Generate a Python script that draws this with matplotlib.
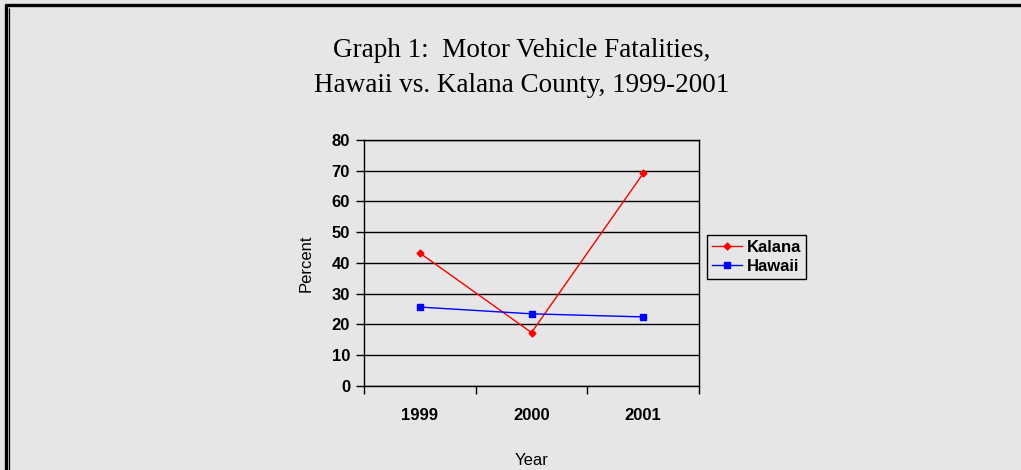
import matplotlib
matplotlib.use("Agg")
import matplotlib.pyplot as plt
from matplotlib.lines import Line2D
from matplotlib.ticker import FixedLocator, NullFormatter

years = ["1999", "2000", "2001"]
kalana = [43.2, 17.3, 69.1]
hawaii = [25.6, 23.4, 22.4]
yticks = [0, 10, 20, 30, 40, 50, 60, 70, 80]

BG = "#e6e6e6"
fig = plt.figure(figsize=(10.21, 4.70), dpi=100, facecolor=BG)
ax = fig.add_axes([364/1021, 1-385.7/470, (699-364)/1021, (385.7-140)/470])
ax.set_facecolor(BG)

x = list(range(len(years)))
ax.plot(x, kalana, color="#ff0000", lw=1.0, marker="D", ms=3.5, label="Kalana", zorder=3)
ax.plot(x, hawaii, color="#0000ff", lw=1.0, marker="s", ms=4, label="Hawaii", zorder=3)

ax.set_xlim(-0.5, len(years) - 0.5)
ax.set_ylim(0, 80)
ax.set_yticks(yticks)
ax.yaxis.grid(True, color="black", lw=1.0)
ax.set_axisbelow(True)

ax.set_xticks(x)
ax.set_xticklabels(years, fontsize=12, fontweight="bold", family="Liberation Sans")
ax.tick_params(axis="x", which="major", length=0, pad=16)
ax.xaxis.set_minor_locator(FixedLocator([-0.5, 0.5, 1.5, 2.5]))
ax.xaxis.set_minor_formatter(NullFormatter())
ax.tick_params(axis="x", which="minor", length=6, width=1, direction="out", color="black")
ax.tick_params(axis="y", length=6, width=1, direction="out", pad=4, color="black")
for lbl in ax.get_yticklabels():
    lbl.set_fontsize(12)
    lbl.set_fontweight("bold")
    lbl.set_family("Liberation Sans")

for s in ax.spines.values():
    s.set_color("black")
    s.set_linewidth(1.0)

ax.set_ylabel("Percent", fontsize=12, family="Liberation Sans", labelpad=13)
ax.set_xlabel("Year", fontsize=12, family="Liberation Sans", labelpad=22)

leg = ax.legend(loc="upper left", bbox_to_anchor=(707/1021, 1-235/470), bbox_transform=fig.transFigure,
                frameon=True, fancybox=False, edgecolor="black", facecolor=BG, framealpha=1,
                prop={"family": "Liberation Sans", "weight": "bold", "size": 12},
                handlelength=1.8, handletextpad=0.3, borderpad=0.3, labelspacing=0.25,
                borderaxespad=0)
leg.get_frame().set_linewidth(1.0)

fig.text(0.511, 0.855, "Graph 1:  Motor Vehicle Fatalities,\nHawaii vs. Kalana County, 1999-2001",
         ha="center", va="center", fontsize=19.5, family="Liberation Serif", linespacing=1.5)

# page border
W, H = 1021, 470
kw = dict(transform=fig.transFigure, color="black", solid_capstyle="butt")
fig.add_artist(Line2D([6/W, 6/W], [0, 1-4/H], lw=2.4, **kw))
fig.add_artist(Line2D([9/W, 9/W], [0, 1-8/H], lw=0.9, **kw))
fig.add_artist(Line2D([5/W, 1], [1-5/H, 1-5/H], lw=2.4, **kw))

fig.savefig("out.png", dpi=100, facecolor=BG)
